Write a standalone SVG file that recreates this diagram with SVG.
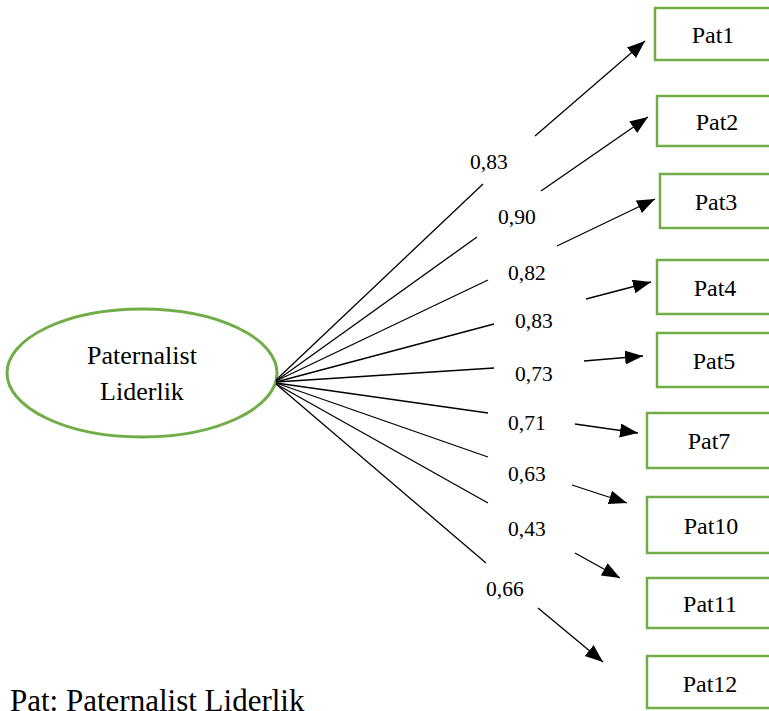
<svg xmlns="http://www.w3.org/2000/svg" width="769" height="711" viewBox="0 0 769 711">
<defs>
<style>
.box{fill:#fff;stroke:#70AD47;stroke-width:2.5}
.ell{fill:#fff;stroke:#70AD47;stroke-width:3}
text{font-family:'Liberation Serif','Times New Roman',serif;fill:#000}
.nt{font-size:24px;text-anchor:middle}
.lb{font-size:21.5px}
.ln{stroke:#000;stroke-width:1.3;fill:none}
.ar{stroke:#000;stroke-width:1.3;fill:none;marker-end:url(#ah)}
</style>
<marker id="ah" markerUnits="userSpaceOnUse" markerWidth="20" markerHeight="16" refX="18" refY="7" orient="auto">
<path d="M0,0 L18,7 L0,14 Z" fill="#000"/>
</marker>
</defs>
<g id="latent">
<ellipse class="ell" cx="142" cy="373" rx="135" ry="64"/>
<text x="142" y="364" font-size="26" text-anchor="middle">Paternalist</text>
<text x="142" y="400" font-size="26" text-anchor="middle">Liderlik</text>
</g>
<g id="Pat1"><rect class="box" x="655" y="8" width="130" height="52"/><text class="nt" x="713" y="43">Pat1</text></g>
<g id="Pat2"><rect class="box" x="657" y="96" width="130" height="50"/><text class="nt" x="717" y="130">Pat2</text></g>
<g id="Pat3"><rect class="box" x="660" y="174" width="130" height="54"/><text class="nt" x="716" y="210">Pat3</text></g>
<g id="Pat4"><rect class="box" x="657" y="260" width="130" height="54"/><text class="nt" x="715" y="296">Pat4</text></g>
<g id="Pat5"><rect class="box" x="657" y="333" width="130" height="54"/><text class="nt" x="714" y="369">Pat5</text></g>
<g id="Pat7"><rect class="box" x="647" y="413" width="140" height="55"/><text class="nt" x="709" y="449">Pat7</text></g>
<g id="Pat10"><rect class="box" x="647" y="497" width="140" height="56"/><text class="nt" x="711" y="534">Pat10</text></g>
<g id="Pat11"><rect class="box" x="647" y="578" width="140" height="50"/><text class="nt" x="710" y="612">Pat11</text></g>
<g id="Pat12"><rect class="box" x="647" y="656" width="140" height="52"/><text class="nt" x="710" y="692">Pat12</text></g>
<g id="connectors">
<line class="ln" x1="276" y1="380" x2="483" y2="184"/>
<line class="ar" x1="535" y1="136" x2="645" y2="41"/>
<line class="ln" x1="276" y1="381" x2="477" y2="237"/>
<line class="ar" x1="541" y1="191" x2="648" y2="117"/>
<line class="ln" x1="276" y1="381" x2="488" y2="280"/>
<line class="ar" x1="557" y1="246" x2="655" y2="199"/>
<line class="ln" x1="276" y1="382" x2="494" y2="324"/>
<line class="ar" x1="586" y1="299" x2="651" y2="282"/>
<line class="ln" x1="276" y1="382" x2="494" y2="368"/>
<line class="ar" x1="584" y1="361" x2="643" y2="356"/>
<line class="ln" x1="276" y1="383" x2="488" y2="413"/>
<line class="ar" x1="575" y1="424" x2="638" y2="433"/>
<line class="ln" x1="276" y1="383" x2="488" y2="457"/>
<line class="ar" x1="572" y1="485" x2="627" y2="503"/>
<line class="ln" x1="276" y1="384" x2="488" y2="503"/>
<line class="ar" x1="575" y1="553" x2="620" y2="578"/>
<line class="ln" x1="276" y1="384" x2="486" y2="563"/>
<line class="ar" x1="538" y1="608" x2="603" y2="662"/>
</g>
<g id="labels">
<text class="lb" x="470" y="169">0,83</text>
<text class="lb" x="498" y="224">0,90</text>
<text class="lb" x="508" y="280">0,82</text>
<text class="lb" x="515" y="328">0,83</text>
<text class="lb" x="515" y="381">0,73</text>
<text class="lb" x="508" y="430">0,71</text>
<text class="lb" x="508" y="481">0,63</text>
<text class="lb" x="508" y="536">0,43</text>
<text class="lb" x="486" y="596">0,66</text>
</g>
<text x="10" y="711" font-size="31">Pat: Paternalist Liderlik</text>
</svg>
